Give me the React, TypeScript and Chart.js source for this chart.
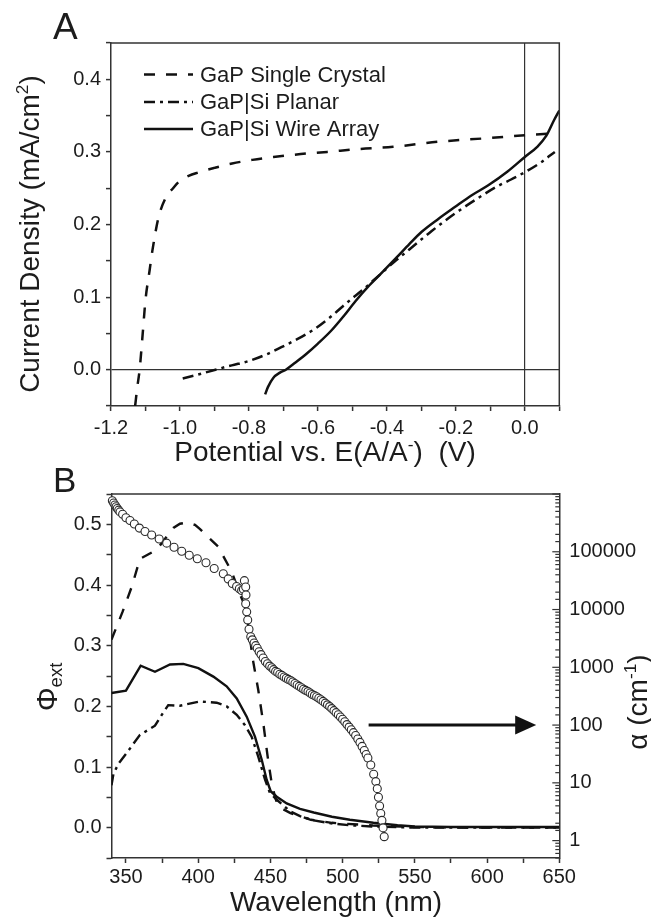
import React, { useEffect, useRef } from 'react';
import { Chart, registerables } from 'chart.js';

Chart.register(...registerables);

const FONT = "'Liberation Sans', Arial, Helvetica, sans-serif";
const INK = '#1c1c1c';
const AXIS = '#333333';

// ---------------- Panel A : J-E curves ----------------
const A_LEGEND = ['GaP Single Crystal', 'GaP|Si Planar', 'GaP|Si Wire Array'];
const A_X_TICKS = [-1.2, -1.0, -0.8, -0.6, -0.4, -0.2, 0.0];
const A_Y_TICKS = [0.0, 0.1, 0.2, 0.3, 0.4];

const CRYSTAL_V = [-1.130, -1.124, -1.117, -1.108, -1.100, -1.088, -1.080, -1.062, -1.040, -1.020, -1.005, -0.975, -0.945, -0.900, -0.849, -0.790, -0.729, -0.650, -0.573, -0.480, -0.382, -0.250, -0.106, 0.000, 0.067];
const CRYSTAL_J = [-0.050, -0.025, 0.000, 0.050, 0.096, 0.137, 0.164, 0.210, 0.238, 0.250, 0.258, 0.267, 0.272, 0.278, 0.284, 0.289, 0.293, 0.297, 0.300, 0.304, 0.307, 0.314, 0.319, 0.323, 0.325];

const PLANAR_V = [-0.992, -0.950, -0.897, -0.850, -0.800, -0.750, -0.706, -0.660, -0.610, -0.560, -0.514, -0.465, -0.418, -0.375, -0.334, -0.270, -0.203, -0.140, -0.082, -0.040, 0.000, 0.045, 0.087];
const PLANAR_J = [-0.012, -0.007, 0.000, 0.006, 0.012, 0.021, 0.031, 0.042, 0.056, 0.074, 0.093, 0.112, 0.132, 0.150, 0.166, 0.191, 0.215, 0.235, 0.252, 0.262, 0.272, 0.285, 0.300];

const WIRE_V = [-0.753, -0.745, -0.729, -0.710, -0.693, -0.665, -0.633, -0.600, -0.561, -0.525, -0.490, -0.455, -0.418, -0.371, -0.335, -0.299, -0.250, -0.203, -0.155, -0.106, -0.050, 0.000, 0.036, 0.062, 0.085, 0.100];
const WIRE_J = [-0.034, -0.024, -0.011, -0.004, 0.000, 0.010, 0.022, 0.036, 0.054, 0.074, 0.095, 0.114, 0.132, 0.155, 0.173, 0.190, 0.208, 0.224, 0.240, 0.254, 0.273, 0.293, 0.307, 0.322, 0.344, 0.357];

// ---------------- Panel B : spectral response ----------------
const B_X_TICKS = [350, 400, 450, 500, 550, 600, 650];
const B_Y_TICKS = [0.0, 0.1, 0.2, 0.3, 0.4, 0.5];
const B_Y2_TICKS = [1, 10, 100, 1000, 10000, 100000];

const CRYSTAL_NM = [340, 347.7, 354, 359.7, 371.3, 382.8, 387.4, 392.5, 397.8, 401.3, 413.9, 423.2, 429, 432.5, 435.5, 437.7, 441.6, 445.1, 448.1, 450.9, 453.2, 455.3, 463.9, 478, 492.6, 521, 550, 600, 650];
const CRYSTAL_PHI = [0.310, 0.356, 0.397, 0.443, 0.458, 0.494, 0.501, 0.503, 0.499, 0.492, 0.463, 0.422, 0.384, 0.365, 0.320, 0.279, 0.227, 0.172, 0.117, 0.073, 0.051, 0.035, 0.024, 0.013, 0.008, 0.0035, 0.001, 0.0, 0.0];

const WIRE_NM = [340, 350, 360.2, 370.1, 380.5, 389.7, 400.1, 410.5, 419.7, 426.7, 433.6, 439.3, 444, 447.4, 450.2, 454.4, 461.3, 470.5, 480, 492.6, 505, 521.3, 538, 550, 575, 600, 650];
const WIRE_PHI = [0.222, 0.226, 0.267, 0.257, 0.269, 0.270, 0.263, 0.249, 0.233, 0.213, 0.183, 0.150, 0.112, 0.079, 0.060, 0.051, 0.040, 0.031, 0.025, 0.018, 0.013, 0.008, 0.004, 0.002, 0.001, 0.001, 0.001];

const PLANAR_NM = [340, 341.3, 344.7, 350.5, 359.7, 370.1, 374.8, 379.3, 387.4, 401.3, 412.8, 419.7, 426.7, 432.4, 437, 441.6, 446.3, 449.7, 454.4, 463.6, 470.5, 480, 492, 505, 520, 550, 600, 650];
const PLANAR_PHI = [0.070, 0.088, 0.105, 0.123, 0.153, 0.168, 0.186, 0.202, 0.201, 0.208, 0.206, 0.200, 0.186, 0.169, 0.150, 0.117, 0.079, 0.057, 0.046, 0.027, 0.019, 0.012, 0.007, 0.004, 0.002, 0.0, 0.0, 0.0];

const ALPHA_NM = [340.6, 341.5, 342.4, 343.2, 344.0, 345.0, 345.9, 347.7, 350.0, 352.8, 355.8, 359.3, 363.2, 367.8, 373.0, 378.2, 383.3, 388.6, 393.8, 399.4, 405.4, 411.1, 417.4, 420.8, 423.6, 426.6, 428.5, 430.1, 431.3, 432.0, 432.9, 433.1, 432.9, 433.6, 434.3, 435.2, 436.4, 437.5, 438.7, 439.8, 440.9, 442.2, 443.5, 445.0, 446.5, 448.0, 449.5, 451.0, 452.2, 453.6, 455.0, 456.5, 458.0, 459.5, 461.0, 462.5, 464.0, 465.5, 467.0, 468.5, 470.0, 471.5, 473.0, 474.5, 476.0, 477.5, 479.0, 480.5, 482.0, 483.5, 485.0, 486.5, 488.0, 489.5, 491.0, 492.5, 494.0, 495.5, 497.0, 498.5, 500.0, 501.5, 503.0, 504.5, 506.0, 507.5, 509.0, 510.5, 512.0, 513.5, 515.0, 516.3, 517.5, 519.5, 521.5, 523.0, 524.0, 524.8, 525.6, 526.4, 527.2, 528.0, 528.8];
const ALPHA_CM = [766000, 700000, 646000, 600000, 562000, 525000, 490000, 447000, 389000, 347000, 302000, 257000, 224000, 195000, 166000, 141000, 120000, 102000, 87100, 75900, 64600, 51300, 41700, 33900, 28200, 25100, 22900, 21400, 22400, 31600, 24500, 17800, 12600, 9120, 6610, 4570, 3390, 2990, 2630, 2370, 2140, 1860, 1660, 1450, 1260, 1150, 1050, 980, 912, 850, 813, 760, 724, 680, 646, 617, 589, 556, 525, 495, 468, 442, 417, 398, 380, 359, 339, 324, 309, 292, 275, 257, 240, 224, 209, 193, 178, 164, 151, 138, 126, 114, 102, 92.3, 83.2, 74.1, 66.1, 57.5, 50.1, 42.7, 36.3, 31.0, 26.9, 20.4, 14.1, 10.5, 7.94, 5.62, 3.98, 2.95, 2.24, 1.66, 1.17];

const ARROW_NM = [518, 634];
const ARROW_ALPHA = 100;

// ---------------- helpers ----------------
type Run = { t: string; sup?: boolean; sub?: boolean };

function drawRuns(ctx: CanvasRenderingContext2D, runs: Run[], x: number, y: number, rot: number, size: number) {
  ctx.save();
  ctx.translate(x, y);
  ctx.rotate(rot);
  const small = size * 0.62;
  const widths = runs.map((r) => {
    ctx.font = `${r.sup || r.sub ? small : size}px ${FONT}`;
    return ctx.measureText(r.t).width;
  });
  const total = widths.reduce((a, b) => a + b, 0);
  let cx = -total / 2;
  ctx.fillStyle = INK;
  ctx.textAlign = 'left';
  ctx.textBaseline = 'alphabetic';
  runs.forEach((r, i) => {
    ctx.font = `${r.sup || r.sub ? small : size}px ${FONT}`;
    const dy = r.sup ? -size * 0.4 : r.sub ? size * 0.18 : 0;
    ctx.fillText(r.t, cx, dy);
    cx += widths[i];
  });
  ctx.restore();
}

const near = (list: number[], v: number) => list.some((t) => Math.abs(t - v) < 1e-6 * Math.max(1, Math.abs(t)));
const fmt = (v: number, d: number) => (Math.abs(v) < 1e-9 ? 0 : v).toFixed(d);
const pts = (xs: number[], ys: number[]) => xs.map((x, i) => ({ x, y: ys[i] }));
const tickFont = { family: FONT, size: 20 };

function frame(ctx: CanvasRenderingContext2D, ca: any, right: boolean) {
  ctx.save();
  ctx.strokeStyle = AXIS;
  ctx.lineWidth = 1.5;
  ctx.beginPath();
  ctx.moveTo(ca.left, ca.top);
  ctx.lineTo(ca.right, ca.top);
  if (right) ctx.lineTo(ca.right, ca.bottom);
  ctx.stroke();
  ctx.restore();
}

export default function App() {
  const refA = useRef<HTMLCanvasElement>(null);
  const refB = useRef<HTMLCanvasElement>(null);

  useEffect(() => {
    const DASH = [11, 11];
    const DASHDOT = [11, 5, 3, 5];

    const panelA = {
      id: 'panelA',
      afterDraw(chart: any) {
        const { ctx, chartArea: ca } = chart;
        frame(ctx, ca, true);
        const rows = [74.5, 102, 129];
        chart.data.datasets.forEach((ds: any, i: number) => {
          ctx.save();
          ctx.strokeStyle = ds.borderColor;
          ctx.lineWidth = ds.borderWidth;
          ctx.setLineDash(ds.borderDash || []);
          ctx.beginPath();
          ctx.moveTo(144, rows[i]);
          ctx.lineTo(193, rows[i]);
          ctx.stroke();
          ctx.setLineDash([]);
          ctx.fillStyle = INK;
          ctx.font = `22px ${FONT}`;
          ctx.textBaseline = 'middle';
          ctx.textAlign = 'left';
          ctx.fillText(A_LEGEND[i], 200, rows[i] + 1);
          ctx.restore();
        });
        ctx.save();
        ctx.fillStyle = INK;
        ctx.font = `37px ${FONT}`;
        ctx.textBaseline = 'alphabetic';
        ctx.fillText('A', 53, 39);
        ctx.restore();
        drawRuns(ctx, [{ t: 'Potential vs. E(A/A' }, { t: '-', sup: true }, { t: ')  (V)' }], 325, 461, 0, 28);
        drawRuns(ctx, [{ t: 'Current Density (mA/cm' }, { t: '2', sup: true }, { t: ')' }], 39, 234, -Math.PI / 2, 28);
      },
    };

    const panelB = {
      id: 'panelB',
      afterDraw(chart: any) {
        const { ctx, chartArea: ca } = chart;
        frame(ctx, ca, false);
        const r = chart.scales.y2;
        ctx.save();
        ctx.strokeStyle = AXIS;
        ctx.lineWidth = 1.2;
        r.ticks.forEach((t: any) => {
          const y = r.getPixelForValue(t.value);
          const lg = Math.log10(t.value);
          const major = Math.abs(lg - Math.round(lg)) < 1e-6;
          ctx.beginPath();
          ctx.moveTo(ca.right, y);
          ctx.lineTo(ca.right - (major ? 7 : 4), y);
          ctx.stroke();
        });
        ctx.restore();
        const xs = chart.scales.x;
        const x1 = xs.getPixelForValue(ARROW_NM[0]);
        const x2 = xs.getPixelForValue(ARROW_NM[1]);
        const ay = r.getPixelForValue(ARROW_ALPHA);
        ctx.save();
        ctx.strokeStyle = '#111';
        ctx.fillStyle = '#111';
        ctx.lineWidth = 3;
        ctx.beginPath();
        ctx.moveTo(x1, ay);
        ctx.lineTo(x2 - 18, ay);
        ctx.stroke();
        ctx.beginPath();
        ctx.moveTo(x2, ay);
        ctx.lineTo(x2 - 21, ay - 9.5);
        ctx.lineTo(x2 - 21, ay + 9.5);
        ctx.closePath();
        ctx.fill();
        ctx.restore();
        ctx.save();
        ctx.fillStyle = INK;
        ctx.font = `35px ${FONT}`;
        ctx.textBaseline = 'alphabetic';
        ctx.fillText('B', 53, 30);
        ctx.restore();
        drawRuns(ctx, [{ t: 'Wavelength (nm)' }], 336, 449, 0, 28);
        drawRuns(ctx, [{ t: 'Φ' }, { t: 'ext', sub: true }], 57, 225, -Math.PI / 2, 30);
        drawRuns(ctx, [{ t: 'α (cm' }, { t: '-1', sup: true }, { t: ')' }], 647, 240, -Math.PI / 2, 28);
      },
    };

    const lineDs = (label: string, data: any[], dash: number[], extra: any = {}) => ({
      label,
      data,
      borderColor: '#111',
      borderWidth: 2.5,
      borderDash: dash,
      pointRadius: 0,
      fill: false,
      ...extra,
    });

    const chartA = new Chart(refA.current as HTMLCanvasElement, {
      type: 'line',
      data: {
        datasets: [
          lineDs(A_LEGEND[0], pts(CRYSTAL_V, CRYSTAL_J), DASH, { cubicInterpolationMode: 'monotone' }),
          lineDs(A_LEGEND[1], pts(PLANAR_V, PLANAR_J), DASHDOT, { cubicInterpolationMode: 'monotone' }),
          lineDs(A_LEGEND[2], pts(WIRE_V, WIRE_J), [], { cubicInterpolationMode: 'monotone' }),
        ],
      },
      options: {
        responsive: false,
        animation: false,
        events: [],
        layout: { padding: { top: 43, right: 91.7, left: 0, bottom: 0 } },
        plugins: { legend: { display: false }, tooltip: { enabled: false } },
        scales: {
          x: {
            type: 'linear',
            position: 'bottom',
            min: -1.2,
            max: 0.1,
            afterFit: (s: any) => { s.height = 64; },
            border: { display: true, color: AXIS, width: 1.5 },
            grid: {
              drawOnChartArea: true,
              color: (c: any) => (c.tick && Math.abs(c.tick.value) < 1e-9 ? AXIS : 'rgba(0,0,0,0)'),
              lineWidth: 1.2,
              tickLength: 5,
              tickColor: AXIS,
              tickWidth: 1.5,
            },
            ticks: {
              stepSize: 0.1,
              autoSkip: false,
              maxRotation: 0,
              includeBounds: false,
              padding: 5,
              color: INK,
              font: tickFont,
              callback: (v: any) => (near(A_X_TICKS, Number(v)) ? fmt(Number(v), 1) : ''),
            },
          },
          y: {
            type: 'linear',
            position: 'left',
            min: -0.05,
            max: 0.45,
            afterFit: (s: any) => { s.width = 111; },
            border: { display: true, color: AXIS, width: 1.5 },
            grid: {
              drawOnChartArea: true,
              color: (c: any) => (c.tick && Math.abs(c.tick.value) < 1e-9 ? AXIS : 'rgba(0,0,0,0)'),
              lineWidth: 1.2,
              tickLength: 5,
              tickColor: AXIS,
              tickWidth: 1.5,
            },
            ticks: {
              stepSize: 0.05,
              autoSkip: false,
              includeBounds: false,
              padding: 5,
              color: INK,
              font: tickFont,
              callback: (v: any) => (near(A_Y_TICKS, Number(v)) ? fmt(Number(v), 1) : ''),
            },
          },
        },
      } as any,
      plugins: [panelA],
    });

    const chartB = new Chart(refB.current as HTMLCanvasElement, {
      type: 'line',
      data: {
        datasets: [
          {
            label: 'α',
            data: pts(ALPHA_NM, ALPHA_CM),
            yAxisID: 'y2',
            showLine: false,
            pointRadius: 4,
            pointStyle: 'circle',
            pointBackgroundColor: '#ffffff',
            pointBorderColor: '#2a2a2a',
            pointBorderWidth: 1.1,
            clip: false,
            order: 0,
          },
          lineDs(A_LEGEND[0], pts(CRYSTAL_NM, CRYSTAL_PHI), DASH, { yAxisID: 'y', order: 1, borderWidth: 2.4 }),
          lineDs(A_LEGEND[1], pts(PLANAR_NM, PLANAR_PHI), DASHDOT, { yAxisID: 'y', order: 1, borderWidth: 2.4 }),
          lineDs(A_LEGEND[2], pts(WIRE_NM, WIRE_PHI), [], { yAxisID: 'y', order: 1, borderWidth: 2.4 }),
        ],
      },
      options: {
        responsive: false,
        animation: false,
        events: [],
        layout: { padding: { top: 32, right: 0, left: 0, bottom: 0 } },
        plugins: { legend: { display: false }, tooltip: { enabled: false } },
        scales: {
          x: {
            type: 'linear',
            position: 'bottom',
            min: 340,
            max: 650,
            afterFit: (s: any) => { s.height = 63; },
            border: { display: true, color: AXIS, width: 1.5 },
            grid: { drawOnChartArea: false, tickLength: 5, tickColor: AXIS, tickWidth: 1.5 },
            ticks: {
              stepSize: 25,
              autoSkip: false,
              maxRotation: 0,
              includeBounds: false,
              padding: 2,
              color: INK,
              font: tickFont,
              callback: (v: any) => (near(B_X_TICKS, Number(v)) ? String(Math.round(Number(v))) : ''),
            },
          },
          y: {
            type: 'linear',
            position: 'left',
            min: -0.05,
            max: 0.55,
            afterFit: (s: any) => { s.width = 111.5; },
            border: { display: true, color: AXIS, width: 1.5 },
            grid: { drawOnChartArea: false, tickLength: 5, tickColor: AXIS, tickWidth: 1.5 },
            ticks: {
              stepSize: 0.05,
              autoSkip: false,
              includeBounds: false,
              padding: 5,
              color: INK,
              font: tickFont,
              callback: (v: any) => (near(B_Y_TICKS, Number(v)) ? fmt(Number(v), 1) : ''),
            },
          },
          y2: {
            type: 'logarithmic',
            position: 'right',
            min: 0.5,
            max: 1e6,
            afterFit: (s: any) => { s.width = 91.7; },
            border: { display: true, color: AXIS, width: 1.5 },
            grid: { drawOnChartArea: false, drawTicks: false },
            ticks: {
              autoSkip: false,
              padding: 10,
              color: INK,
              font: tickFont,
              callback: (v: any) => (near(B_Y2_TICKS, Number(v)) ? String(Math.round(Number(v))) : ''),
            },
          },
        },
      } as any,
      plugins: [panelB],
    });

    return () => {
      chartA.destroy();
      chartB.destroy();
    };
  }, []);

  return (
    <div style={{ position: 'absolute', left: 0, top: 0, width: 651, height: 921, background: '#ffffff' }}>
      <canvas ref={refA} width={651} height={470} style={{ position: 'absolute', left: 0, top: 0 }} />
      <canvas ref={refB} width={651} height={459} style={{ position: 'absolute', left: 0, top: 462 }} />
    </div>
  );
}
